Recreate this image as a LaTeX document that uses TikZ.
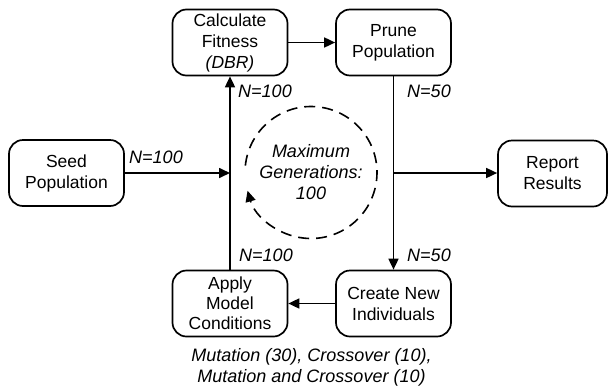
\documentclass[tikz,border=0pt]{standalone}
\usepackage{fontspec}
\setmainfont{Liberation Sans}
\usetikzlibrary{arrows.meta}

\tikzset{
  stepbox/.style={draw, line width=1.7pt, rounded corners=14pt, minimum width=115pt,
    minimum height=66pt, align=center, inner sep=1pt, font=\fontsize{17.5}{21}\selectfont},
  lab/.style={font=\fontsize{18}{21}\selectfont\itshape, align=center, inner sep=0pt},
  flow/.style={line width=1.7pt, -{Triangle[length=11pt,width=10pt]}},
}

\begin{document}
\begin{tikzpicture}[x=1pt, y=-1pt]
            \useasboundingbox (0,0) rectangle (608,389);

            \node[stepbox] (calc) at (230, 42.5) {Calculate\\Fitness\\\textit{(DBR)}};
            \node[stepbox] (prune) at (393.5, 42.5) {Prune\\Population};
            \node[stepbox] (seed) at (66.5, 173) {Seed\\Population};
            \node[stepbox, minimum width=109pt] (report) at (552.5, 173.5) {Report\\Results};
            \node[stepbox, font=\fontsize{17.5}{20}\selectfont] (apply) at (230, 303.5) {Apply\\Model\\Conditions};
            \node[stepbox] (create) at (393.5, 303.5) {Create New\\Individuals};

            \coordinate (j1) at (230, 173);
            \coordinate (j2) at (393.5, 173);

            \draw[flow] (calc) to (prune);
            \draw[flow] (apply) to (calc);
            \draw[flow] (seed.east |- j1) to (j1);
            \draw[flow] (prune) to (create);
            \draw[flow] (j2) to (report.west |- j2);
            \draw[flow] (create) to (apply);

            \node[lab] (n1) at (156, 157) {N=100};
            \node[lab] (n2) at (265, 91) {N=100};
            \node[lab] (n3) at (429, 91) {N=50};
            \node[lab] (n4) at (429, 255) {N=50};
            \node[lab] (n5) at (266, 255) {N=100};

            \node[lab] (gen) at (311, 172.5) {Maximum\\Generations:\\100};
            \draw[line width=1.6pt, dash pattern=on 11pt off 7pt, -{Triangle[length=11pt,width=10pt]}]
              (gen.center) ++(-174:66) arc[start angle=-174, end angle=164, radius=66];

            \node[lab] (ops) at (311.5, 367.5) {Mutation (30), Crossover (10),\\Mutation and Crossover (10)};
        \end{tikzpicture}
\end{document}
